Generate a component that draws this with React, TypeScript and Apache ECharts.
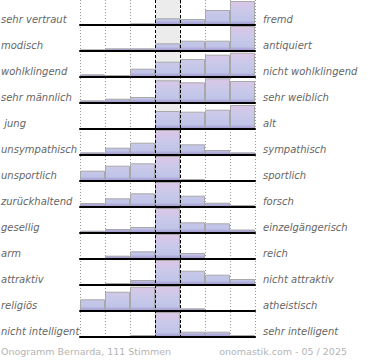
import React, { useEffect, useRef } from "react";
import * as echarts from "echarts";

const leftLabels = [
  "sehr vertraut", "modisch", "wohlklingend", "sehr männlich", " jung",
  "unsympathisch", "unsportlich", "zurückhaltend", "gesellig", "arm",
  "attraktiv", "religiös", "nicht intelligent",
];
const rightLabels = [
  "fremd", "antiquiert", "nicht wohlklingend", "sehr weiblich", "alt",
  "sympathisch", "sportlich", "forsch", "einzelgängerisch", "reich",
  "nicht attraktiv", "atheistisch", "sehr intelligent",
];
const steps = ["1", "2", "3", "4", "5", "6", "7"];

const r1 = [0, 0, 1.7, 6.7, 6, 15, 24];
const r2 = [1.7, 2.7, 2.7, 7.7, 10.3, 10.3, 25];
const r3 = [2.7, 2, 8.3, 15.3, 18, 22.3, 24.3];
const r4 = [2.7, 4.3, 6, 22.7, 20.7, 24.7, 22];
const r5 = [0, 0, 0, 18, 17.3, 19.3, 24];
const r6 = [2.7, 7.3, 12.3, 25, 10.7, 5, 2.7];
const r7 = [10.3, 15.3, 17.7, 25, 2, 0, 1];
const r8 = [4, 8.7, 13.7, 25, 11.3, 4.3, 2];
const r9 = [2.3, 4, 6, 25, 10.7, 9.7, 3.5];
const r10 = [0, 3.3, 7.7, 25, 6, 0, 0];
const r11 = [0, 2, 5, 25, 14.3, 10.3, 6];
const r12 = [11.7, 19.3, 24.3, 25, 2.7, 0, 0];
const r13 = [0, 0, 2, 25, 5.3, 5.3, 2];
const rows = [r1, r2, r3, r4, r5, r6, r7, r8, r9, r10, r11, r12, r13];

const footerLeft = "Onogramm Bernarda, 111 Stimmen";
const footerRight = "onomastik.com - 05 / 2025";

const LEFT = 80;
const WIDTH = 175;
const PITCH = 26;
const ROWH = 25;
const FONT = "DejaVu Sans";

export default function App() {
  const ref = useRef<HTMLDivElement>(null);
  useEffect(() => {
    document.body.style.margin = "0";
    if (!ref.current) return;
    const chart = echarts.init(ref.current, null, { renderer: "svg" });

    const grids: any[] = [
      { left: LEFT, width: WIDTH, top: 0, height: PITCH * 12 + ROWH + 1 },
    ];
    const xAxes: any[] = [
      {
        gridIndex: 0, type: "value", min: 0, max: 7, interval: 1,
        axisLine: { show: false }, axisTick: { show: false }, axisLabel: { show: false },
        splitLine: { show: true, lineStyle: { color: "#999", type: [1, 2], width: 1 } },
      },
    ];
    const yAxes: any[] = [
      { gridIndex: 0, type: "value", min: 0, max: 1, show: false, splitLine: { show: false } },
    ];
    const series: any[] = [
      {
        type: "line", xAxisIndex: 0, yAxisIndex: 0, data: [[0, -1]], symbol: "none",
        lineStyle: { opacity: 0 }, z: 1, silent: true,
        markArea: {
          silent: true,
          itemStyle: { color: "#ececec" },
          data: [[{ xAxis: 3 }, { xAxis: 4 }]],
        },
      },
      {
        type: "line", xAxisIndex: 0, yAxisIndex: 0, data: [[0, -1]], symbol: "none",
        lineStyle: { opacity: 0 }, z: 20, silent: true,
        markLine: {
          silent: true, symbol: ["none", "none"], label: { show: false },
          lineStyle: { color: "#000", type: [3, 2], width: 1 },
          data: [{ xAxis: 3 }, { xAxis: 4 }],
        },
      },
    ];
    const graphics: any[] = [];

    rows.forEach((vals, i) => {
      const gi = i + 1;
      const top = PITCH * i;
      grids.push({ left: LEFT, width: WIDTH, top, height: ROWH });
      xAxes.push({
        gridIndex: gi, type: "category", data: steps, boundaryGap: true, z: 10,
        axisLine: { show: true, lineStyle: { color: "#000", width: 2 } },
        axisTick: { show: false }, axisLabel: { show: false }, splitLine: { show: false },
      });
      yAxes.push({
        gridIndex: gi, type: "value", min: 0, max: ROWH, show: false, splitLine: { show: false },
      });
      series.push({
        type: "bar", xAxisIndex: gi, yAxisIndex: gi, data: vals,
        barCategoryGap: "0%", z: 2, silent: true,
        itemStyle: {
          borderColor: "#a8a8a8", borderWidth: 1,
          color: new echarts.graphic.LinearGradient(0, top, 0, top + ROWH, [
            { offset: 0, color: "#dec6e6" },
            { offset: 0.45, color: "#c9c9ea" },
            { offset: 0.82, color: "#c0c4e8" },
            { offset: 1, color: "#9f92cb" },
          ], true),
        },
      });
      graphics.push({
        type: "text", left: 1, top: top + 14,
        style: { text: leftLabels[i], fontFamily: FONT, fontSize: 10, fontStyle: "italic", fill: "#666" },
      });
      graphics.push({
        type: "text", left: 263, top: top + 14,
        style: { text: rightLabels[i], fontFamily: FONT, fontSize: 10, fontStyle: "italic", fill: "#666" },
      });
    });

    graphics.push({
      type: "text", left: 1, top: 346,
      style: { text: footerLeft, fontFamily: FONT, fontSize: 9.5, fill: "#b4b4b4" },
    });
    graphics.push({
      type: "text", right: 23, top: 346,
      style: { text: footerRight, fontFamily: FONT, fontSize: 9.5, fill: "#b4b4b4" },
    });

    chart.setOption({
      animation: false,
      backgroundColor: "#fff",
      grid: grids,
      xAxis: xAxes,
      yAxis: yAxes,
      series,
      graphic: graphics,
    });
    return () => chart.dispose();
  }, []);
  return <div ref={ref} style={{ width: 370, height: 360 }} />;
}
